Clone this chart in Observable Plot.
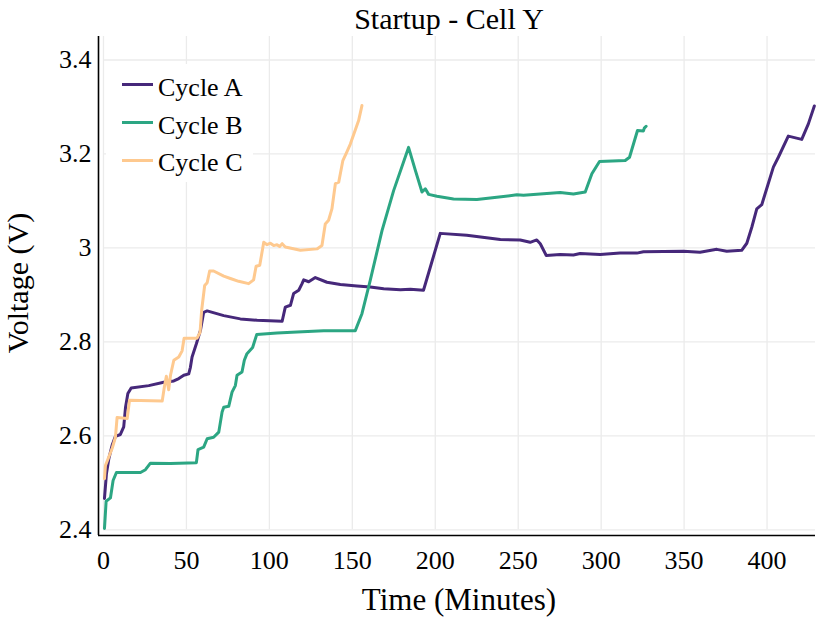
<!DOCTYPE html>
<html>
<head>
<meta charset="utf-8">
<script src="https://cdn.jsdelivr.net/npm/d3@7"></script>
<script src="https://cdn.jsdelivr.net/npm/@observablehq/plot@0.6"></script>
<style>
  body { margin: 0; background: #fff; }
  #wrap { position: relative; width: 831px; height: 624px; font-family: "Liberation Serif", "DejaVu Serif", serif; color: #000; }
  #wrap svg { position: absolute; left: 0; top: 0; }
  .txt { position: absolute; white-space: nowrap; line-height: 1; }
</style>
</head>
<body>
<div id="wrap"></div>
<script>
// ---- Data ----
const seriesNames = ["Cycle A", "Cycle B", "Cycle C"];
const seriesColors = ["#46287a", "#2ca683", "#fec98f"];

const timeA = [0.6,1.8,3.2,5.2,7.2,10.2,12.2,13.3,14.7,16.7,27.3,36.3,42.4,45.4,48.4,51.4,52.4,53.4,56,58.4,60.4,62.5,72.5,82.5,92.6,107.7,109.6,112.7,114.6,117.7,119.7,120.7,123.7,127.7,134.7,142.8,152.8,160.8,168.9,179,185,192.9,197,203,219,239.2,251.2,257.2,261.2,263.3,266.9,275.3,283.3,287.3,299.4,311.4,321.5,325.5,349.6,359.6,369.7,375.7,384.7,387.8,390.8,393.8,396.8,403.8,406.8,412.8,420.9,424.9,428.5];
const voltA = [2.467,2.520,2.551,2.580,2.599,2.603,2.619,2.661,2.690,2.702,2.707,2.714,2.717,2.722,2.729,2.732,2.746,2.768,2.796,2.824,2.863,2.866,2.856,2.849,2.846,2.844,2.874,2.878,2.903,2.910,2.924,2.932,2.928,2.937,2.927,2.922,2.919,2.917,2.913,2.911,2.912,2.910,2.959,3.031,3.027,3.018,3.017,3.012,3.017,3.009,2.984,2.986,2.985,2.988,2.986,2.989,2.989,2.992,2.993,2.991,2.997,2.993,2.995,3.010,3.044,3.083,3.092,3.172,3.193,3.238,3.231,3.264,3.302];

const timeB = [0.6,1.6,4.2,5.8,7.8,22.3,25.3,28.3,40.4,56,57,60.4,62.5,66.4,69.5,71.5,72.5,75.5,77.5,79.5,80.5,83.5,84.9,86.5,89.9,92.4,104.6,116.7,132.7,151.8,155.8,160.8,167.9,174.9,183.9,188,192,194,196,201,211,225.1,237.1,249.2,253.2,275.3,283.3,290.4,294.4,299,314.5,317.1,321.9,325.5,326,327.1];
const voltB = [2.403,2.461,2.468,2.505,2.522,2.522,2.528,2.542,2.541,2.543,2.571,2.576,2.594,2.597,2.608,2.651,2.661,2.663,2.693,2.707,2.729,2.736,2.761,2.775,2.788,2.816,2.819,2.821,2.824,2.824,2.860,2.931,3.037,3.122,3.214,3.165,3.119,3.126,3.114,3.110,3.104,3.103,3.108,3.113,3.112,3.118,3.115,3.119,3.158,3.184,3.186,3.193,3.250,3.249,3.255,3.259];

const timeC = [0.6,1.2,3.2,5.2,7.2,8.2,14.3,15.7,35.4,36.7,37.9,39.3,40.4,42.4,45.4,47.4,48.6,56.4,58.2,59.2,61,62.5,64,66.4,72.5,76.5,81.5,87.5,90.5,92,94.2,96.6,98.6,100.6,102.6,104.6,106.2,107.7,109.6,118.7,128.7,131.7,133.7,135.7,137.7,139.8,141.8,144.3,146.8,148.8,153.8,155.8];
const voltC = [2.509,2.537,2.555,2.573,2.597,2.639,2.637,2.676,2.674,2.704,2.727,2.698,2.729,2.761,2.768,2.781,2.808,2.808,2.820,2.868,2.920,2.926,2.951,2.951,2.940,2.935,2.929,2.924,2.932,2.961,2.963,3.012,3.007,3.010,3.005,3.007,3.003,3.009,3.002,2.995,2.998,3.005,3.051,3.059,3.083,3.137,3.140,3.186,3.205,3.221,3.271,3.303];

const xTicks = [0, 50, 100, 150, 200, 250, 300, 350, 400];
const yTicks = [2.4, 2.6, 2.8, 3.0, 3.2, 3.4];
const yTickLabels = ["2.4", "2.6", "2.8", "3", "3.2", "3.4"];
const xDomain = [-3, 429.2];
const yDomain = [2.388, 3.45];

const titleText = "Startup - Cell Y";
const xLabel = "Time (Minutes)";
const yLabel = "Voltage (V)";

// ---- Build rows ----
const allTimes = [timeA, timeB, timeC];
const allVolts = [voltA, voltB, voltC];
const rows = [];
allTimes.forEach((ts, s) => ts.forEach((t, i) => rows.push({series: seriesNames[s], time: t, volt: allVolts[s][i]})));

const gridColor = "#ebebeb";

const chart = Plot.plot({
  width: 831,
  height: 624,
  marginTop: 36,
  marginBottom: 89,
  marginLeft: 98,
  marginRight: 16,
  style: {fontFamily: "'Liberation Serif', serif", color: "#000", background: "transparent", overflow: "visible"},
  x: {domain: xDomain},
  y: {domain: yDomain},
  color: {domain: seriesNames, range: seriesColors},
  marks: [
    Plot.ruleX(xTicks, {y1: yTicks[0], y2: yDomain[1], stroke: gridColor, strokeWidth: 1.3}),
    Plot.ruleY(yTicks, {x1: xTicks[0], x2: xDomain[1], stroke: gridColor, strokeWidth: 1.3}),
    Plot.axisX({ticks: xTicks, tickSize: 0, tickPadding: 15, fontSize: 26, label: null}),
    Plot.axisY({ticks: yTicks, tickSize: 0, tickPadding: 7, fontSize: 26, label: null,
      tickFormat: d => yTickLabels[yTicks.findIndex(v => Math.abs(v - d) < 1e-9)]}),
    Plot.line(rows, {x: "time", y: "volt", z: "series", stroke: "series", strokeWidth: 3, strokeLinejoin: "round", strokeLinecap: "round"}),
    Plot.ruleX([xDomain[0]], {stroke: "#000", strokeWidth: 1.6}),
    Plot.ruleY([yDomain[0]], {stroke: "#000", strokeWidth: 1.6})
  ]
});

const wrap = document.getElementById("wrap");
wrap.appendChild(chart);

function addText(text, css) {
  const d = document.createElement("div");
  d.className = "txt";
  d.textContent = text;
  Object.assign(d.style, css);
  wrap.appendChild(d);
  return d;
}

// Title
addText(titleText, {left: "449px", top: "4px", fontSize: "30px", transform: "translateX(-50%)"});
// X label
addText(xLabel, {left: "459px", top: "584px", fontSize: "31px", transform: "translateX(-50%)"});
// Y label
addText(yLabel, {left: "18px", top: "283px", fontSize: "30px", transform: "translate(-50%,-50%) rotate(-90deg)"});

// Legend
const legendBox = document.createElement("div");
Object.assign(legendBox.style, {position: "absolute", left: "106px", top: "64px", width: "147px", height: "118px", background: "#fff"});
wrap.appendChild(legendBox);
seriesNames.forEach((name, i) => {
  const c = 84.7 + 37.7 * i;
  const sw = document.createElement("div");
  Object.assign(sw.style, {position: "absolute", left: "122px", top: (c - 1.5) + "px", width: "31px", height: "3px", background: seriesColors[i]});
  wrap.appendChild(sw);
  addText(name, {left: "158px", top: (c + 12 - 21.8) + "px", fontSize: "26px"});
});
</script>
</body>
</html>
